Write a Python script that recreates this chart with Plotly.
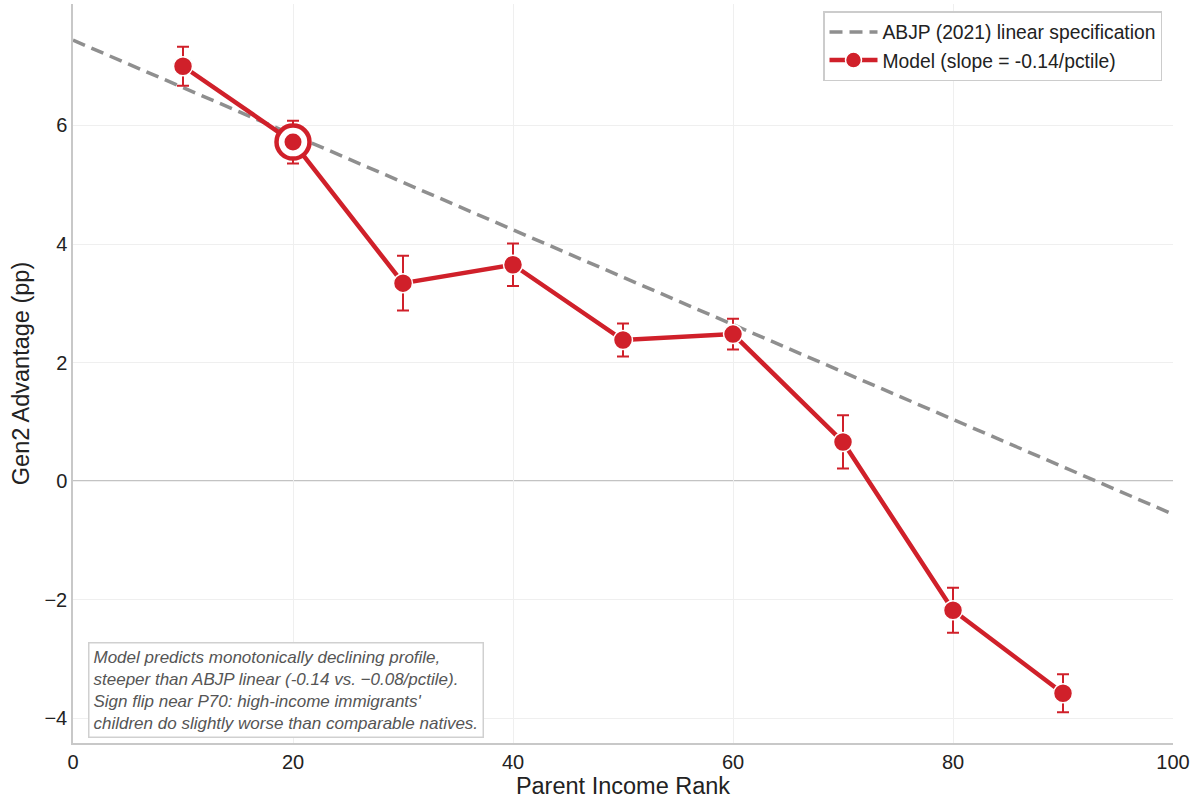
import plotly.graph_objects as go

# Parent income rank (percentile) and model-predicted Gen2 advantage (pp)
ranks = [10, 20, 30, 40, 50, 60, 70, 80, 90]
advantage = [7.00, 5.72, 3.34, 3.65, 2.38, 2.48, 0.66, -2.18, -3.58]
err = [0.33, 0.36, 0.46, 0.36, 0.28, 0.26, 0.45, 0.38, 0.32]

# ABJP (2021) linear specification: intercept and slope per percentile
abjp_x = [0, 100]
abjp_intercept = 7.44
abjp_slope = -0.08
abjp_y = [abjp_intercept + abjp_slope * x for x in abjp_x]

# Highlighted percentile
hi_rank = 20
hi_val = advantage[ranks.index(hi_rank)]

RED = "#d0202a"
GRAY = "#8f8f8f"
FONT = "Liberation Sans, Arial, sans-serif"

fig = go.Figure()

fig.add_trace(go.Scatter(
    x=abjp_x, y=abjp_y, mode="lines",
    line=dict(color=GRAY, width=3.5, dash="13px,7px"),
    name="ABJP (2021) linear specification",
))

fig.add_trace(go.Scatter(
    x=ranks, y=advantage, mode="lines+markers",
    line=dict(color=RED, width=4.5),
    marker=dict(size=19, color=RED, line=dict(color="white", width=1.5)),
    error_y=dict(type="data", array=err, visible=True, color=RED,
                 thickness=2, width=6),
    name="Model (slope = -0.14/pctile)",
))

# Ring around the highlighted point
fig.add_trace(go.Scatter(
    x=[hi_rank], y=[hi_val], mode="markers",
    marker=dict(size=33, color="white", line=dict(color=RED, width=4.5)),
    showlegend=False, hoverinfo="skip",
))
fig.add_trace(go.Scatter(
    x=[hi_rank], y=[hi_val], mode="markers",
    marker=dict(size=17, color=RED, line=dict(color=RED, width=0)),
    showlegend=False, hoverinfo="skip",
))

fig.add_hline(y=0, line=dict(color="#888888", width=1.2), layer="below")

note = ("Model predicts monotonically declining profile,<br>"
        "steeper than ABJP linear (-0.14 vs. \u22120.08/pctile).<br>"
        "Sign flip near P70: high-income immigrants'<br>"
        "children do slightly worse than comparable natives.")
fig.add_annotation(
    x=0.0136, y=0.007, xref="paper", yref="paper",
    xanchor="left", yanchor="bottom", align="left",
    text=note, showarrow=False,
    font=dict(family=FONT, size=17, color="#555555", style="italic"),
    bgcolor="white", bordercolor="#d0d0d0", borderwidth=1.5, borderpad=4,
)

fig.update_layout(
    width=1198, height=803,
    margin=dict(l=73, r=25, t=4, b=60),
    paper_bgcolor="white", plot_bgcolor="white",
    font=dict(family=FONT, size=20, color="#222222"),
    legend=dict(
        x=0.99, y=0.99, xanchor="right", yanchor="top",
        bgcolor="white", bordercolor="#cccccc", borderwidth=1.5,
        font=dict(size=19.3, color="#222222"),
        itemwidth=48, tracegroupgap=0,
    ),
    xaxis=dict(
        title=dict(text="Parent Income Rank", font=dict(size=23.5), standoff=6),
        automargin=False,
        range=[0, 100], tickvals=[0, 20, 40, 60, 80, 100],
        showgrid=True, gridcolor="#efefef", gridwidth=1,
        showline=True, linecolor="#c8c8c8", linewidth=1.5,
        zeroline=False, ticks="", tickfont=dict(size=20),
    ),
    yaxis=dict(
        title=dict(text="Gen2 Advantage (pp)", font=dict(size=23.5), standoff=8),
        automargin=False,
        range=[-4.42, 8.05], tickvals=[-4, -2, 0, 2, 4, 6],
        ticktext=["\u22124", "\u22122", "0", "2", "4", "6"],
        showgrid=True, gridcolor="#efefef", gridwidth=1,
        showline=True, linecolor="#c8c8c8", linewidth=1.5,
        zeroline=False, ticks="", tickfont=dict(size=20),
    ),
)

fig.write_html("out.html")
